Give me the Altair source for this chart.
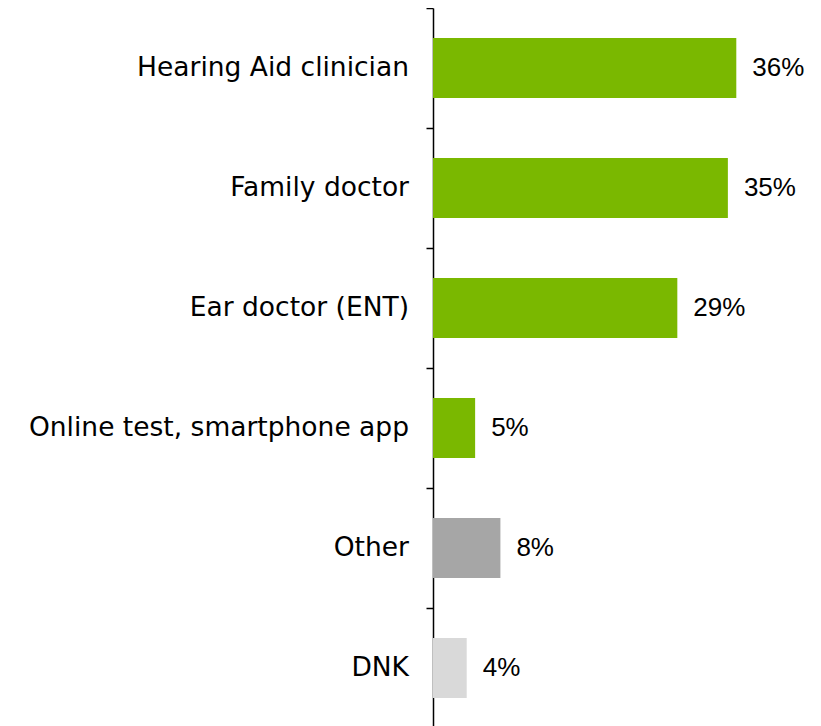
import altair as alt
import pandas as pd

categories = ["Hearing Aid clinician", "Family doctor", "Ear doctor (ENT)",
              "Online test, smartphone app", "Other", "DNK"]
values = [36, 35, 29, 5, 8, 4]
colors = ["#7AB800", "#7AB800", "#7AB800", "#7AB800", "#A6A6A6", "#D9D9D9"]

df = pd.DataFrame({"cat": categories, "val": values, "color": colors,
                   "lab": [f"{v}%" for v in values]})

y = alt.Y("cat:N", sort=categories,
          scale=alt.Scale(paddingInner=0, paddingOuter=0),
          axis=alt.Axis(title=None, labels=False, bandPosition=0, tickSize=7,
                        tickColor="black", domainColor="black", tickWidth=1.5,
                        domainWidth=1.5, grid=False))
x = alt.X("val:Q", scale=alt.Scale(domain=[0, 40]), axis=None)

base = alt.Chart(df)
bars = base.mark_bar(size=60).encode(x=x, y=y, color=alt.Color("color:N", scale=None))
vals = base.mark_text(align="left", baseline="middle", dx=16, font="Liberation Sans",
                      fontSize=26, color="black").encode(x=x, y=y, text="lab:N")
cats = base.mark_text(align="right", baseline="middle", font="DejaVu Sans",
                      fontSize=26.5, color="black").encode(x=alt.value(-24), y=y, text="cat:N")

chart = (bars + vals + cats).properties(
    width=337, height=720,
    autosize=alt.AutoSizeParams(type="none"),
    padding={"left": 425, "top": 0, "right": 40, "bottom": 0},
).configure_view(stroke=None)

chart.save("out.html", embed_options={"renderer": "svg", "actions": False})
